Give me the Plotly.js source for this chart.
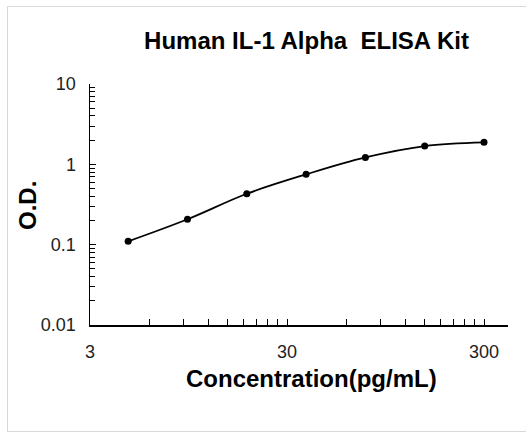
<!DOCTYPE html>
<html>
<head>
<meta charset="utf-8">
<script src="https://cdn.plot.ly/plotly-3.0.1.min.js"></script>
<style>
  html, body { margin: 0; padding: 0; background: #fff; overflow: hidden; }
  #wrap { position: relative; width: 526px; height: 434px; overflow: hidden; }
  #chart { width: 526px; height: 434px; }
  #frame { position: absolute; left: 7px; top: 6px; width: 560px; height: 424px;
           border: 1px solid #d9d9d9; pointer-events: none; }
</style>
</head>
<body>
<div id="wrap">
  <div id="chart"></div>
  <div id="frame"></div>
</div>
<script>
// Data
const concentration = [4.6875, 9.375, 18.75, 37.5, 75, 150, 300];
const od = [0.11, 0.207, 0.43, 0.75, 1.22, 1.69, 1.88];

const xTickVals = [3, 30, 300];
const xTickText = ['3', '30', '300'];
const yTickVals = [0.01, 0.1, 1, 10];
const yTickText = ['0.01', '0.1', '1', '10'];

// minor ticks: Excel-style multiples of the base within each decade
const xMinor = [];
[3, 30].forEach(b => { for (let k = 2; k <= 9; k++) xMinor.push(b * k); });
const yMinor = [];
[0.01, 0.1, 1].forEach(b => { for (let k = 2; k <= 9; k++) yMinor.push(b * k); });

const font = 'Arial, "Liberation Sans", sans-serif';

const trace = {
  x: concentration,
  y: od,
  type: 'scatter',
  mode: 'lines+markers',
  line: { color: '#000', width: 1.8, shape: 'spline', smoothing: 1 },
  marker: { color: '#000', size: 7 },
  showlegend: false,
  hoverinfo: 'skip'
};

const layout = {
  width: 526,
  height: 434,
  margin: { l: 90, r: 18, t: 84, b: 109 },
  paper_bgcolor: '#fff',
  plot_bgcolor: '#fff',
  title: {
    text: '<b>Human IL-1 Alpha  ELISA Kit</b>',
    font: { family: font, size: 24, color: '#000' },
    x: 306.5 / 526, xanchor: 'center', xref: 'container',
    y: 1 - 41 / 434, yref: 'container', yanchor: 'middle'
  },
  xaxis: {
    type: 'log',
    range: [Math.log10(3), Math.log10(3) + 418 / 197],
    tickmode: 'array', tickvals: xTickVals, ticktext: xTickText,
    ticks: 'inside', ticklen: 6, tickwidth: 1, tickcolor: '#000',
    minor: { tickmode: 'array', tickvals: xMinor, ticks: 'inside', ticklen: 6, tickwidth: 1, tickcolor: '#000', showgrid: false },
    showline: true, linecolor: '#000', linewidth: 1.5,
    showgrid: false, zeroline: false,
    tickfont: { family: font, size: 18, color: '#222' },
    ticklabelstandoff: 10
  },
  yaxis: {
    type: 'log',
    range: [-2, 1],
    tickmode: 'array', tickvals: yTickVals, ticktext: yTickText,
    ticks: 'inside', ticklen: 6, tickwidth: 1, tickcolor: '#000',
    minor: { tickmode: 'array', tickvals: yMinor, ticks: 'inside', ticklen: 5, tickwidth: 1, tickcolor: '#000', showgrid: false },
    showline: true, linecolor: '#000', linewidth: 1.5,
    showgrid: false, zeroline: false,
    tickfont: { family: font, size: 18, color: '#222' },
    ticklabelstandoff: 9
  },
  annotations: [
    {
      text: '<b>Concentration(pg/mL)</b>',
      font: { family: font, size: 24, color: '#000' },
      xref: 'paper', yref: 'paper',
      x: (311 - 90) / 418, y: -(378 - 325) / 241,
      xanchor: 'center', yanchor: 'middle', showarrow: false
    },
    {
      text: '<b>O.D.</b>',
      font: { family: font, size: 24, color: '#000' },
      textangle: -90,
      xref: 'paper', yref: 'paper',
      x: -(90 - 27) / 418, y: (325 - 205) / 241,
      xanchor: 'center', yanchor: 'middle', showarrow: false
    }
  ]
};

Plotly.newPlot('chart', [trace], layout, { staticPlot: true, displayModeBar: false });
</script>
</body>
</html>
